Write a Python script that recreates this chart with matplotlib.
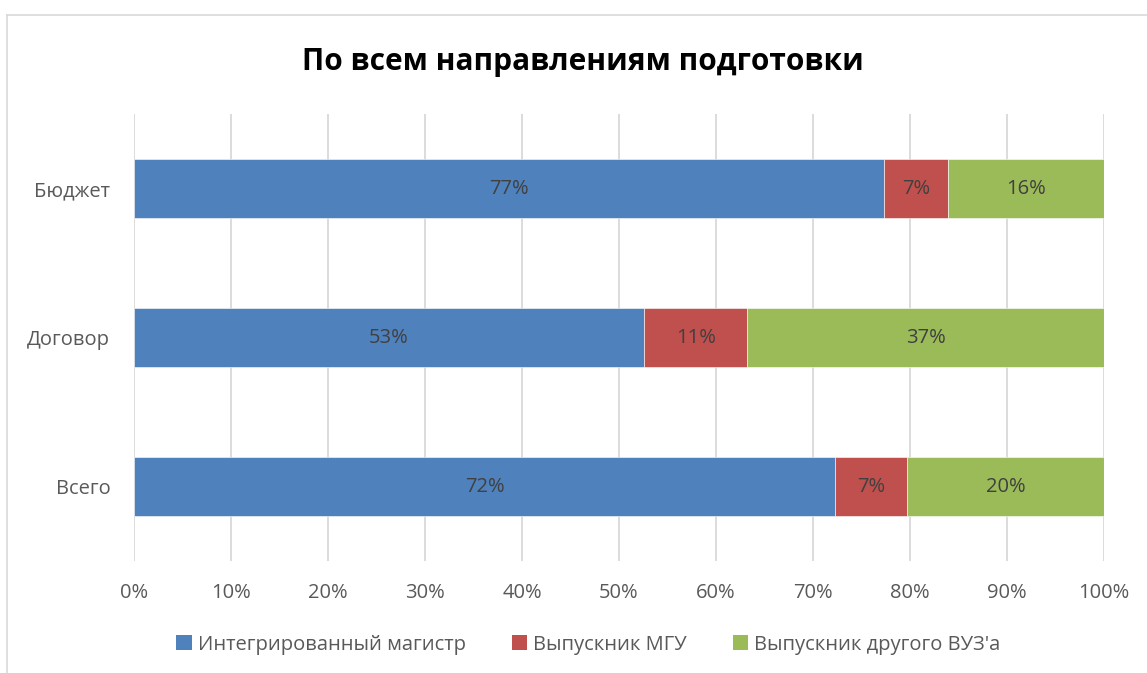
import matplotlib

matplotlib.use("Agg")

import matplotlib.pyplot as plt
from matplotlib.lines import Line2D
from matplotlib.patches import Patch

categories = ["Бюджет", "Договор", "Всего"]
series_names = ["Интегрированный магистр", "Выпускник МГУ", "Выпускник другого ВУЗ'а"]
integrated = [77.3, 52.6, 72.3]
msu = [6.6, 10.6, 7.4]
other = [16.1, 36.8, 20.3]
labels_integrated = ["77%", "53%", "72%"]
labels_msu = ["7%", "11%", "7%"]
labels_other = ["16%", "37%", "20%"]
xticks = list(range(0, 101, 10))

colors = ["#4f81bd", "#c0504d", "#9bbb59"]

plt.rcParams["font.family"] = ["Open Sans", "DejaVu Sans"]

fig = plt.figure(figsize=(11.47, 6.73), dpi=100)
ax = fig.add_axes([0.1168, 0.1664, 0.8457, 0.6642])

ypos = list(range(len(categories)))
left = [0.0] * len(categories)
for vals, labs, color, name in zip(
    [integrated, msu, other],
    [labels_integrated, labels_msu, labels_other],
    colors,
    series_names,
):
    bars = ax.barh(ypos, vals, left=left, height=0.4, color=color,
                   edgecolor="white", linewidth=0.4, label=name, zorder=3)
    for b, lab in zip(bars, labs):
        ax.text(b.get_x() + b.get_width() / 2, b.get_y() + b.get_height() / 2,
                lab, ha="center", va="center", fontsize=14.5, color="#404040",
                zorder=4)
    left = [l + v for l, v in zip(left, vals)]

ax.set_xlim(0, 100)
ax.set_ylim(2.5, -0.5)
ax.set_yticks(ypos)
ax.set_yticklabels(categories)
ax.set_xticks(xticks)
ax.set_xticklabels([f"{t}%" for t in xticks])
ax.tick_params(axis="both", length=0, labelsize=14.5, labelcolor="#595959")
ax.tick_params(axis="x", pad=16)
ax.tick_params(axis="y", pad=17)
ax.grid(axis="x", color="#d9d9d9", linewidth=1.3, zorder=0)
for s in ax.spines.values():
    s.set_visible(False)

fig.text(0.5085, 0.908, "По всем направлениям подготовки", ha="center",
         va="center", fontsize=21.5, fontweight="bold", color="black")

handles = [Patch(facecolor=c, label=n) for c, n in zip(colors, series_names)]
fig.legend(handles=handles, loc="center", bbox_to_anchor=(0.513, 0.042),
           ncol=3, frameon=False, fontsize=14.5, labelcolor="#595959",
           handlelength=0.75, handleheight=0.75, handletextpad=0.3,
           columnspacing=2.3)

# chart area border (top and left edges visible)
fig.add_artist(Line2D([0.0061, 1.0], [0.978, 0.978], transform=fig.transFigure,
                      color="#d9d9d9", linewidth=1.2))
fig.add_artist(Line2D([0.0061, 0.0061], [0.0, 0.978], transform=fig.transFigure,
                      color="#d9d9d9", linewidth=1.2))

fig.savefig("out.png", dpi=100)
plt.close(fig)
